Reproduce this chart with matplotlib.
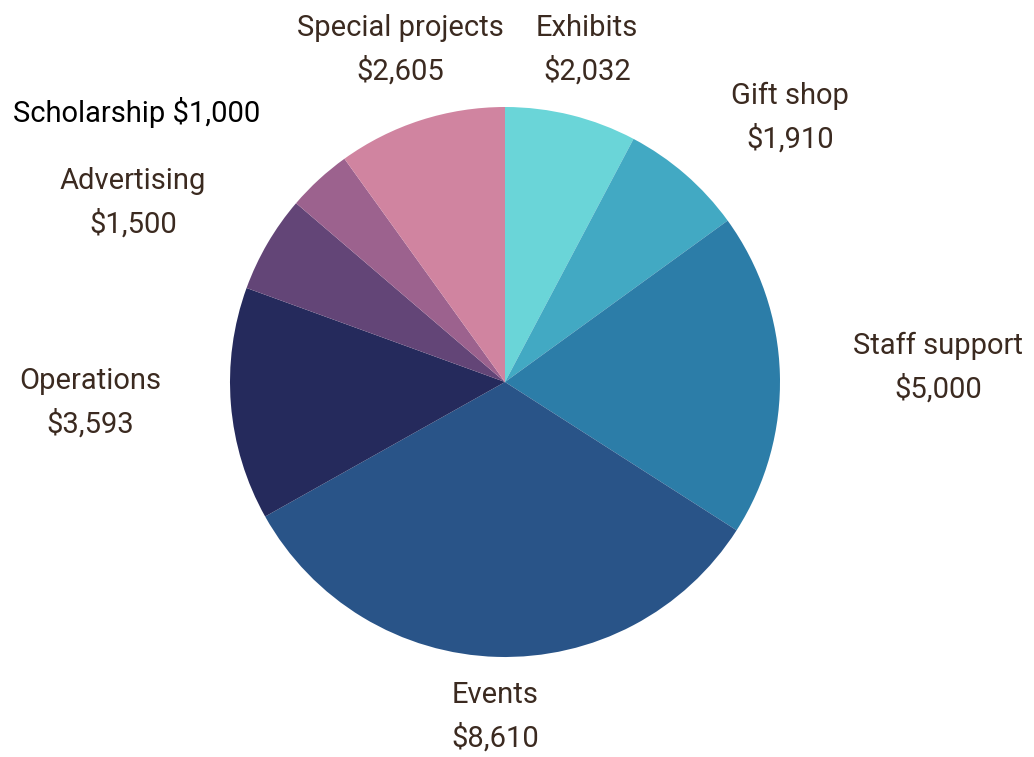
import matplotlib
matplotlib.use("Agg")
import matplotlib.pyplot as plt

categories = ['Exhibits', 'Gift shop', 'Staff support', 'Events', 'Operations',
              'Advertising', 'Scholarship', 'Special projects']
amounts = [2032, 1910, 5000, 8610, 3593, 1500, 1000, 2605]
colors = ['#6AD5D8', '#42A9C3', '#2C7DA8', '#295488', '#252A5C',
          '#634577', '#9C628E', '#D084A0']

# label layout (pixel centres in the 1034x757 picture)
label_px = [(587, 50), (790, 118), (938, 368), (495, 717), (90, 403),
            (133, 203), (137, 112), (400, 50)]
label_color = ['#3B2A20'] * 8
label_color[6] = '#000000'

W, H = 1034, 757
CX, CY, R = 505, 382, 275

fig = plt.figure(figsize=(W / 100, H / 100), dpi=100)
ax = fig.add_axes([0, 0, 1, 1])
ax.axis('off')

ax.pie(amounts, colors=colors, startangle=90, counterclock=False,
       radius=1, center=(0, 0), frame=False,
       wedgeprops=dict(linewidth=0))
ax.set_xlim(-CX / R, (W - CX) / R)
ax.set_ylim((CY - H) / R, CY / R)
ax.set_aspect('auto')

for name, val, (px, py), c in zip(categories, amounts, label_px, label_color):
    x = (px - CX) / R
    y = (CY - py) / R
    if name == 'Scholarship':
        txt = f'{name} ${val:,}'
    else:
        txt = f'{name}\n${val:,}'
    ax.text(x, y, txt, ha='center', va='center', fontsize=21,
            family='Roboto', color=c, linespacing=1.6)

fig.savefig('out.png', dpi=100)
